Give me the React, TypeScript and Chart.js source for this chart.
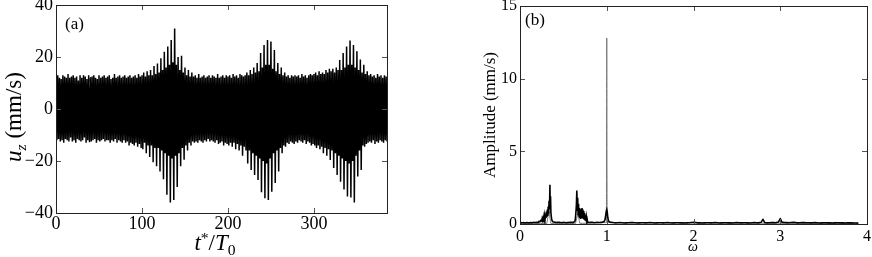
import { useEffect, useRef } from 'react';
import { Chart, registerables } from 'chart.js';

Chart.register(...registerables);

const SERIF = '"Liberation Serif", "Times New Roman", serif';

// Panel (a): time series u_z, read as one max/min pair per window of 2 T0
const timeWindow = 2;
const timeMax = 385;
const uzUpper = [
  12, 13, 12, 11.5, 13, 12.5, 12, 13.5, 12, 12.5,
  13, 12, 12.5, 11, 13, 12, 13, 12.5, 11.5, 13,
  12, 12.5, 13, 12, 11.5, 13, 12, 12.5, 13, 12,
  12.5, 13, 11.5, 12, 13.5, 12, 12.5, 13, 12, 12.5,
  13, 12, 12.5, 13, 12, 12.5, 13, 12, 13.5, 12.5,
  13, 14, 12.5, 14.5, 13, 15, 13, 16.5, 13.5, 17.5,
  14, 19.5, 15, 22, 16, 24, 17, 26.5, 18, 31,
  17, 20, 15, 20.5, 14, 16, 13, 15, 12.5, 14,
  12.5, 13, 12, 13.5, 12, 12.5, 13, 12, 12.5, 13,
  12, 13, 12.5, 12, 13.5, 12, 12.5, 13, 12, 13,
  12.5, 13, 12, 13.5, 12.5, 13, 12, 13.5, 13, 12.5,
  13, 14, 13, 15, 13.5, 16, 14, 17.7, 14.5, 21.5,
  16, 24.6, 17, 26.5, 17, 26, 15.5, 22.7, 14.5, 17.7,
  13.5, 16, 13, 14, 12.5, 13, 12, 13, 12.5, 13,
  12.5, 13, 12, 13.5, 12.5, 13, 12, 13, 13.5, 13,
  13.5, 14, 13, 14.5, 13.5, 14, 13.5, 15, 14, 15.5,
  14.5, 15.5, 14, 16, 15, 18.8, 15, 21.5, 16, 24,
  17, 26.3, 17, 24.6, 16, 22, 15, 19, 14, 17,
  13.5, 14.5, 13, 13.5, 12.5, 13, 12, 13.5, 12.5, 13,
  12, 13, 12.5,
];
const uzLower = [
  -12, -11.5, -12.5, -12, -13, -11.5, -12, -12.5, -11, -12.5,
  -12, -13, -11.5, -12, -12.5, -12, -11, -13, -12, -12.5,
  -12.5, -12, -11.5, -13, -12, -12.5, -12, -11.5, -12.5, -12,
  -12, -13, -12, -12.5, -11.5, -13, -12, -12.5, -13, -12,
  -13, -12.5, -14, -13, -13.5, -14, -13, -14.5, -13.5, -15,
  -15.5, -13, -17, -14, -18.5, -14, -20.5, -15, -22, -15,
  -24, -16, -27, -17, -33, -18, -36, -19, -35, -18,
  -30, -17, -22, -15, -19.5, -14, -16, -13, -14, -12.5,
  -13, -12.5, -13, -12, -12.5, -13, -12, -12.5, -11.5, -12.5,
  -12, -12.5, -13, -12, -13.5, -13, -12.5, -14, -13, -13.5,
  -14, -13, -14.5, -13, -15.5, -13.5, -16, -14, -18, -14.5,
  -16, -21, -16, -23.5, -17, -25.4, -18, -27.3, -19, -32,
  -20, -34.3, -21, -35, -19, -31.8, -17, -28.5, -16, -24,
  -15, -17, -14, -14.5, -13, -13.5, -12.5, -13, -13.5, -12.5,
  -13, -12, -12.5, -13, -12, -13.5, -12.5, -13, -14, -13.5,
  -14, -15, -14, -15.5, -14.5, -17, -15, -18, -15.5, -19.6,
  -16, -22.7, -17, -25.4, -18, -28, -19, -31, -20, -33.7,
  -21, -34, -20, -36, -18, -26, -16, -23.5, -14, -14.5,
  -13.5, -13, -12.5, -13, -12, -13.5, -12.5, -13, -12, -12.5,
  -13, -12, -12.5,
];
const uzRange = [-40, 40];
const uzStep = 20;
const timeStep = 100;

// Panel (b): amplitude spectrum, [omega, amplitude]
const spectrumBlack: [number, number][] = [
  [0, 0.12], [0.02, 0.08], [0.04, 0.1], [0.06, 0.07], [0.08, 0.1], [0.1, 0.08], [0.12, 0.1], [0.14, 0.09],
  [0.16, 0.11], [0.18, 0.1], [0.2, 0.12], [0.21, 0.1], [0.22, 0.18], [0.23, 0.15], [0.24, 0.25], [0.25, 0.2],
  [0.255, 0.35], [0.26, 0.25], [0.265, 0.4], [0.27, 0.3], [0.275, 0.5], [0.28, 0.32], [0.285, 0.6], [0.29, 0.38],
  [0.295, 0.7], [0.3, 0.42], [0.305, 0.85], [0.31, 0.5], [0.315, 1.0], [0.32, 0.55], [0.325, 1.2], [0.33, 0.7],
  [0.335, 1.6], [0.34, 1.0], [0.345, 2.7], [0.348, 1.2], [0.352, 1.9], [0.356, 0.8], [0.36, 0.55], [0.365, 0.35],
  [0.37, 0.22], [0.38, 0.15], [0.4, 0.12], [0.42, 0.1], [0.45, 0.12], [0.48, 0.09], [0.5, 0.11], [0.53, 0.09],
  [0.56, 0.1], [0.59, 0.12], [0.61, 0.1], [0.625, 0.15], [0.635, 0.22], [0.64, 0.45], [0.645, 0.85], [0.65, 1.3],
  [0.655, 2.3], [0.66, 0.9], [0.665, 1.8], [0.67, 0.6], [0.675, 1.4], [0.68, 0.5], [0.685, 1.1], [0.69, 0.4],
  [0.695, 0.95], [0.7, 0.35], [0.705, 1.05], [0.71, 0.4], [0.715, 1.1], [0.72, 0.45], [0.725, 1.0], [0.73, 0.35],
  [0.735, 0.9], [0.74, 0.3], [0.745, 0.75], [0.75, 0.25], [0.755, 0.6], [0.76, 0.2], [0.765, 0.45], [0.77, 0.15],
  [0.775, 0.3], [0.78, 0.12], [0.8, 0.1], [0.83, 0.12], [0.86, 0.09], [0.89, 0.11], [0.92, 0.1], [0.95, 0.12],
  [0.97, 0.18], [0.98, 0.3], [0.988, 0.6], [0.995, 0.9], [1.0, 1.0], [1.005, 0.85], [1.012, 0.45], [1.02, 0.22],
  [1.04, 0.12], [1.07, 0.1], [1.1, 0.08], [1.15, 0.1], [1.2, 0.07], [1.25, 0.09], [1.3, 0.1], [1.35, 0.07],
  [1.4, 0.09], [1.45, 0.08], [1.5, 0.1], [1.55, 0.07], [1.6, 0.09], [1.65, 0.08], [1.7, 0.1], [1.75, 0.07],
  [1.8, 0.09], [1.85, 0.08], [1.9, 0.07], [1.95, 0.09], [2.0, 0.12], [2.05, 0.08], [2.1, 0.07], [2.15, 0.09],
  [2.2, 0.08], [2.25, 0.1], [2.3, 0.07], [2.35, 0.09], [2.4, 0.08], [2.45, 0.07], [2.5, 0.1], [2.55, 0.08],
  [2.6, 0.09], [2.65, 0.07], [2.7, 0.1], [2.75, 0.08], [2.78, 0.12], [2.8, 0.32], [2.82, 0.1], [2.85, 0.08],
  [2.9, 0.1], [2.95, 0.09], [2.98, 0.14], [3.0, 0.38], [3.02, 0.12], [3.05, 0.1], [3.1, 0.09], [3.15, 0.12],
  [3.2, 0.08], [3.25, 0.1], [3.3, 0.09], [3.35, 0.08], [3.4, 0.1], [3.45, 0.07], [3.5, 0.09], [3.55, 0.08],
  [3.6, 0.07], [3.65, 0.09], [3.7, 0.08], [3.75, 0.07], [3.8, 0.08], [3.85, 0.07], [3.9, 0.06],
];
const spectrumGrey: [number, number][] = [
  [0, 0.03], [0.31, 0.04], [0.333, 0.9], [0.355, 0.04], [0.64, 0.04], [0.667, 0.7], [0.69, 0.04],
  [0.996, 0.1], [1.0, 12.8], [1.004, 0.1], [3.9, 0.03],
];
const ampRange = [0, 15];
const ampStep = 5;
const omegaRange = [0, 4];
const omegaStep = 1;

const TICK_LEN = 5;

const framePlugin = {
  id: 'frame',
  afterDraw(chart: any) {
    const { ctx, chartArea: a, scales } = chart;
    const x = scales.x;
    const y = scales.y;
    ctx.save();
    ctx.lineWidth = 1;
    ctx.strokeStyle = '#555';
    ctx.beginPath();
    for (const t of x.ticks) {
      if (t.value <= x.min || t.value >= x.max) continue;
      const px = Math.round(x.getPixelForValue(t.value)) + 0.5;
      ctx.moveTo(px, a.bottom);
      ctx.lineTo(px, a.bottom - TICK_LEN);
      ctx.moveTo(px, a.top);
      ctx.lineTo(px, a.top + TICK_LEN);
    }
    for (const t of y.ticks) {
      if (t.value <= y.min || t.value >= y.max) continue;
      const py = Math.round(y.getPixelForValue(t.value)) + 0.5;
      ctx.moveTo(a.left, py);
      ctx.lineTo(a.left + TICK_LEN, py);
      ctx.moveTo(a.right, py);
      ctx.lineTo(a.right - TICK_LEN, py);
    }
    ctx.stroke();
    ctx.strokeStyle = '#222';
    ctx.strokeRect(
      Math.round(a.left) + 0.5,
      Math.round(a.top) + 0.5,
      Math.round(a.right - a.left),
      Math.round(a.bottom - a.top)
    );
    ctx.restore();
  },
};

const minusFmt = (v: number) => (v < 0 ? '\u2212' + Math.abs(v) : String(v));

function makeConfig(opts: {
  datasets: any[];
  xMin: number; xMax: number; xStep: number;
  yMin: number; yMax: number; yStep: number;
  yWidth: number; xHeight: number; padTop: number; padRight: number;
  fontSize: number; xPad: number; yPad: number;
}) {
  const font = { family: SERIF, size: opts.fontSize };
  return {
    type: 'line',
    data: { datasets: opts.datasets },
    plugins: [framePlugin],
    options: {
      animation: false,
      responsive: false,
      events: [],
      layout: { padding: { left: 0, right: opts.padRight, top: opts.padTop, bottom: 0 } },
      plugins: { legend: { display: false }, tooltip: { enabled: false } },
      elements: { point: { radius: 0 }, line: { tension: 0.0001 } },
      scales: {
        x: {
          type: 'linear',
          min: opts.xMin,
          max: opts.xMax,
          grid: { display: false, drawTicks: false },
          border: { display: false },
          ticks: {
            stepSize: opts.xStep,
            includeBounds: false,
            color: '#000',
            font,
            padding: opts.xPad,
            maxRotation: 0,
            callback: minusFmt,
          },
          afterFit: (s: any) => {
            s.height = opts.xHeight;
            s.paddingLeft = 0;
            s.paddingRight = 0;
          },
        },
        y: {
          type: 'linear',
          min: opts.yMin,
          max: opts.yMax,
          grid: { display: false, drawTicks: false },
          border: { display: false },
          ticks: {
            stepSize: opts.yStep,
            color: '#000',
            font,
            padding: opts.yPad,
            callback: minusFmt,
          },
          afterFit: (s: any) => {
            s.width = opts.yWidth;
            s.paddingTop = 0;
            s.paddingBottom = 0;
          },
        },
      },
    },
  } as any;
}

export default function App() {
  const leftRef = useRef<HTMLCanvasElement>(null);
  const rightRef = useRef<HTMLCanvasElement>(null);

  useEffect(() => {
    const series: { x: number; y: number }[] = [];
    for (let k = 0; k < uzUpper.length; k++) {
      series.push({ x: k * timeWindow, y: uzUpper[k] });
      series.push({ x: k * timeWindow + timeWindow / 2, y: uzLower[k] });
    }
    const left = new Chart(
      leftRef.current!,
      makeConfig({
        datasets: [
          { data: series, borderColor: '#000', borderWidth: 1.5, pointRadius: 0, fill: false },
        ],
        xMin: 0, xMax: timeMax, xStep: timeStep,
        yMin: uzRange[0], yMax: uzRange[1], yStep: uzStep,
        yWidth: 56, xHeight: 44, padTop: 5, padRight: 13,
        fontSize: 18, xPad: 0, yPad: 3,
      })
    );
    const right = new Chart(
      rightRef.current!,
      makeConfig({
        datasets: [
          {
            data: spectrumBlack.map(([x, y]) => ({ x, y })),
            borderColor: '#000', borderWidth: 1.6, pointRadius: 0, fill: false,
          },
          {
            data: spectrumGrey.map(([x, y]) => ({ x, y })),
            borderColor: '#777', borderWidth: 1, pointRadius: 0, fill: false,
          },
        ],
        xMin: omegaRange[0], xMax: omegaRange[1], xStep: omegaStep,
        yMin: ampRange[0], yMax: ampRange[1], yStep: ampStep,
        yWidth: 90, xHeight: 33, padTop: 6, padRight: 5,
        fontSize: 16, xPad: 3, yPad: 3,
      })
    );
    return () => {
      left.destroy();
      right.destroy();
    };
  }, []);

  const base: React.CSSProperties = {
    position: 'absolute',
    fontFamily: SERIF,
    lineHeight: 1,
    whiteSpace: 'nowrap',
    color: '#000',
  };

  return (
    <div style={{ position: 'absolute', left: 0, top: 0, width: 872, height: 257, background: '#fff' }}>
      <canvas
        ref={leftRef}
        width={400}
        height={257}
        style={{ position: 'absolute', left: 0, top: 0, width: 400, height: 257 }}
      />
      <canvas
        ref={rightRef}
        width={442}
        height={257}
        style={{ position: 'absolute', left: 430, top: 0, width: 442, height: 257 }}
      />
      <div style={{ ...base, left: 65, top: 15, fontSize: 17 }}>(a)</div>
      <div style={{ ...base, left: 525, top: 11, fontSize: 17 }}>(b)</div>
      <div
        style={{
          ...base,
          left: 13,
          top: 117,
          fontSize: 23,
          transform: 'translate(-50%, -50%) rotate(-90deg)',
        }}
      >
        <i>u</i>
        <span style={{ fontSize: '0.68em', fontStyle: 'italic', position: 'relative', top: '0.3em' }}>z</span>
        {' (mm/s)'}
      </div>
      <div style={{ ...base, left: 215, top: 231, fontSize: 23, transform: 'translateX(-50%)' }}>
        <i>t</i>
        <span style={{ fontSize: '0.68em', position: 'relative', top: '-0.45em' }}>*</span>
        /<i>T</i>
        <span style={{ fontSize: '0.68em', position: 'relative', top: '0.3em' }}>0</span>
      </div>
      <div
        style={{
          ...base,
          left: 489,
          top: 115,
          fontSize: 17,
          transform: 'translate(-50%, -50%) rotate(-90deg)',
        }}
      >
        Amplitude (mm/s)
      </div>
      <div style={{ ...base, left: 693, top: 240, fontSize: 14, fontStyle: 'italic', transform: 'translateX(-50%)' }}>
        ω
      </div>
    </div>
  );
}
